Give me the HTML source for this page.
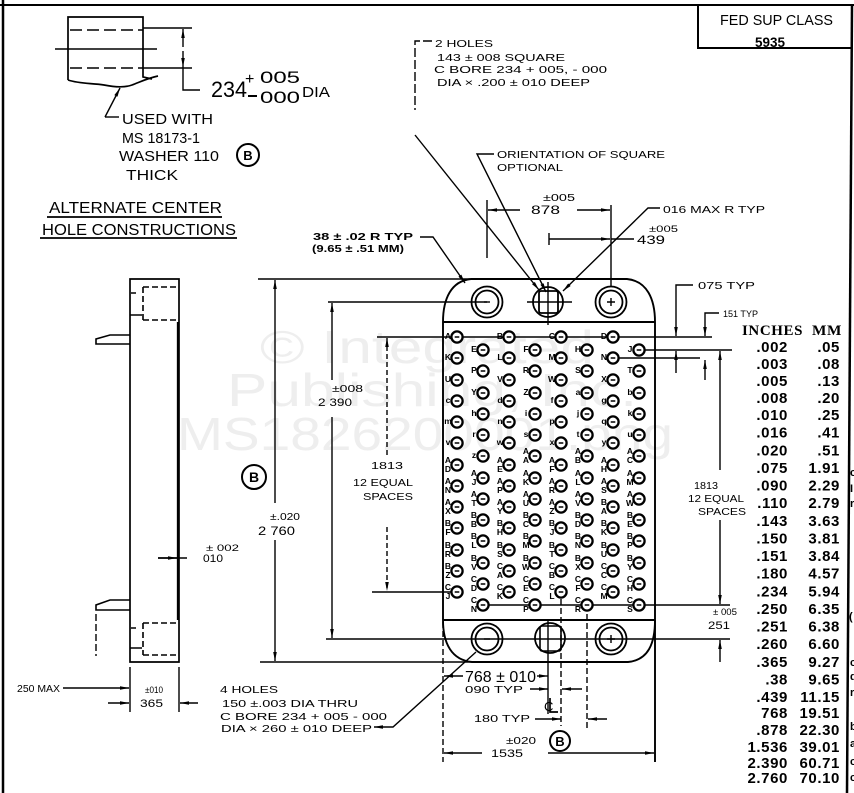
<!DOCTYPE html>
<html><head><meta charset="utf-8">
<style>
html,body{margin:0;padding:0;background:#fff;width:854px;height:793px;overflow:hidden}
svg{display:block}
text{font-family:"Liberation Sans",sans-serif;fill:#000;stroke:none}
.t{font-family:"Liberation Serif",serif;font-weight:bold;font-size:15px;letter-spacing:0.6px}
.lb text{font-size:8.5px;font-weight:bold;text-anchor:middle}
.n{font-size:10.5px}
</style></head><body>
<svg width="854" height="793" viewBox="0 0 854 793" xmlns="http://www.w3.org/2000/svg">
<defs>
<marker id="ar" viewBox="0 0 10 4" refX="10" refY="2" markerWidth="9" markerHeight="3.6" orient="auto" markerUnits="userSpaceOnUse"><path d="M0,0L10,2L0,4z" fill="#000"/></marker>
<g id="h"><circle r="5.6" fill="#fff" stroke="#000" stroke-width="2.3"/><path d="M-2.3,0H2.3" stroke="#000" stroke-width="1.5"/></g>
</defs>

<!-- watermark -->
<text x="260" y="363" font-size="46" textLength="334" lengthAdjust="spacingAndGlyphs" style="fill:#eeeeee">© Integrated</text>
<text x="227" y="406" font-size="46" textLength="410" lengthAdjust="spacingAndGlyphs" style="fill:#eeeeee">Publishing, Inc.</text>
<text x="177" y="450" font-size="46" textLength="496" lengthAdjust="spacingAndGlyphs" style="fill:#eeeeee">MS1826200001.png</text>

<g fill="none" stroke="#000" stroke-width="1.4">
<!-- frame -->
<path d="M3,0V793" stroke-width="2.5"/>
<path d="M0,5H854" stroke-width="2"/>
<path d="M698,5V48H852" stroke-width="2"/>
<path d="M852,5L847,793" stroke-width="2.5"/>

<!-- top-left alternate view -->
<path d="M68,80V17H143V77L152,79" stroke-width="1.7"/>
<path d="M68,80C80,84 92,83 104,85C114,87 124,88 132,85C140,82 148,78 158,76" stroke-width="1.7"/>
<path d="M70,30H143M70,68H143" stroke-dasharray="12,5" stroke-width="1.6"/>
<path d="M55,49H157"/>
<path d="M143,28H192M143,68H192"/>
<path d="M183,47V29" marker-end="url(#ar)"/>
<path d="M183,51V67" marker-end="url(#ar)"/>
<path d="M183,67V90H200"/>
<path d="M105,117L120,88" marker-end="url(#ar)"/>
<path d="M105,117H119"/>
<path d="M248,96H257" stroke-width="2"/>
<circle cx="248" cy="155" r="11" stroke-width="2"/>
<path d="M47,217H222M40,238H237" stroke-width="1.7"/>

<!-- leaders top -->
<path d="M420,237H433L465,283" marker-end="url(#ar)"/>
<path d="M432,41H415V110" stroke-dasharray="9,3"/>
<path d="M415,135L539,290" marker-end="url(#ar)"/>
<path d="M494,154H477L546,292" marker-end="url(#ar)"/>
<path d="M520,210H488" marker-end="url(#ar)"/>
<path d="M577,210H610" marker-end="url(#ar)"/>
<path d="M487,200V258"/>
<path d="M611,205V287"/>
<path d="M660,208H648L563,291" marker-end="url(#ar)"/>
<path d="M549,239H610" marker-end="url(#ar)"/>
<path d="M549,233V245M611,239H634"/>

<!-- right dims -->
<path d="M377,337H712"/>
<path d="M639,350H732"/>
<path d="M613,358H700"/>
<path d="M693,285H676V336" marker-end="url(#ar)"/>
<path d="M676,373V351" marker-end="url(#ar)"/>
<path d="M719,313H705V336" marker-end="url(#ar)"/>
<path d="M705,380V360" marker-end="url(#ar)"/>
<path d="M720,470V351" marker-end="url(#ar)"/>
<path d="M720,520V604" marker-end="url(#ar)"/>
<path d="M483,605H730"/>
<path d="M720,662V640" marker-end="url(#ar)"/>

<!-- left dims -->
<path d="M258,279H470"/>
<path d="M260,662H472"/>
<path d="M275,503V280" marker-end="url(#ar)"/>
<path d="M275,540V661" marker-end="url(#ar)"/>
<circle cx="254" cy="477" r="12" stroke-width="2"/>
<path d="M328,302H487"/>
<path d="M326,639H730"/>
<path d="M332,380V303" marker-end="url(#ar)"/>
<path d="M332,417V638" marker-end="url(#ar)"/>
<path d="M387,455V338" stroke-dasharray="5,3" marker-end="url(#ar)"/>
<path d="M387,527V591" stroke-dasharray="5,3" marker-end="url(#ar)"/>
<path d="M372,592H457"/>

<!-- side view -->
<path d="M130,279H179V662H130Z" stroke-width="1.7"/>
<path d="M178,322V620" stroke-width="2.3"/>
<path d="M143,287H176M143,287V320M143,320H179" stroke-dasharray="6,3" stroke-width="1.6"/>
<path d="M143,623H179M143,623V655M143,655H179" stroke-dasharray="6,3" stroke-width="1.6"/>
<path d="M130,315H142M130,648H142M131,293H136M131,628H136"/>
<path d="M130,335H110L96,339V344H130" stroke-width="1.6"/>
<path d="M130,600H110L96,605V610H130" stroke-width="1.6"/>
<path d="M96,614V656" stroke-dasharray="7,3"/>
<path d="M158,558H187"/>
<path d="M158,558H177" marker-end="url(#ar)"/>
<path d="M130,667V712M179,667V712"/>
<path d="M63,688H129" marker-end="url(#ar)"/>
<path d="M108,703H129" marker-end="url(#ar)"/>
<path d="M198,703H180" marker-end="url(#ar)"/>
<path d="M476,652L393,727H374" marker-end="url(#ar)"/>

<!-- body -->
<path d="M443,322C443,299 451,281 471,279L627,279C647,281 655,299 655,322" stroke-width="1.9"/>
<path d="M443,322H655" stroke-width="1.9"/>
<path d="M443,322V620" stroke-width="1.9"/>
<path d="M655,322V762" stroke-width="1.9"/>
<path d="M443,620H655" stroke-width="1.9"/>
<path d="M443,620C443,644 452,660 472,662L628,662C648,660 655,644 655,620" stroke-width="1.9"/>
<path d="M443,622V762" stroke-dasharray="6,3"/>

<!-- top holes -->
<circle cx="487" cy="302" r="15.5" stroke-width="1.8"/>
<circle cx="487" cy="302" r="11.5" stroke-width="1.8"/>
<path d="M484,302H490"/>
<circle cx="611" cy="302" r="15.5" stroke-width="1.8"/>
<circle cx="611" cy="302" r="11.5" stroke-width="1.8"/>
<path d="M607,302H615M611,298V306"/>
<circle cx="548" cy="302" r="15" stroke-width="1.8"/>
<rect x="539" y="291" width="19" height="22" rx="2" stroke-width="1.8"/>
<path d="M527,302H572M548,282V325"/>

<!-- bottom holes -->
<circle cx="487" cy="639" r="15.5" stroke-width="1.8"/>
<circle cx="487" cy="639" r="11.5" stroke-width="1.8"/>
<path d="M484,639H490"/>
<circle cx="611" cy="639" r="15.5" stroke-width="1.8"/>
<circle cx="611" cy="639" r="11.5" stroke-width="1.8"/>
<path d="M607,639H615M611,635V643"/>
<circle cx="550" cy="638" r="15" stroke-width="1.8"/>
<rect x="540" y="626" width="21" height="25" rx="2" stroke-width="1.6"/>

<!-- bottom dims -->
<path d="M463,676H444" marker-end="url(#ar)"/>
<path d="M537,676H548" marker-end="url(#ar)"/>
<path d="M530,689H548" marker-end="url(#ar)"/>
<path d="M582,689H562" marker-end="url(#ar)"/>
<path d="M535,719H561" marker-end="url(#ar)"/>
<path d="M607,719H588" marker-end="url(#ar)"/>
<path d="M548,620V714"/>
<path d="M561,590V726M587,605V728" stroke-dasharray="6,3"/>
<path d="M550,698V712H558" stroke-width="1.7"/>
<path d="M482,753H444" marker-end="url(#ar)"/>
<path d="M548,753H654" marker-end="url(#ar)"/>
<circle cx="560" cy="741" r="10" stroke-width="2"/>
</g>

<!-- grid holes -->
<g>
<g transform="translate(457,0)"><use href="#h" y="337"/><use href="#h" y="358"/><use href="#h" y="380"/><use href="#h" y="401"/><use href="#h" y="422"/><use href="#h" y="443"/><use href="#h" y="465"/><use href="#h" y="486"/><use href="#h" y="507"/><use href="#h" y="528"/><use href="#h" y="550"/><use href="#h" y="571"/><use href="#h" y="592"/></g>
<g transform="translate(509,0)"><use href="#h" y="337"/><use href="#h" y="358"/><use href="#h" y="380"/><use href="#h" y="401"/><use href="#h" y="422"/><use href="#h" y="443"/><use href="#h" y="465"/><use href="#h" y="486"/><use href="#h" y="507"/><use href="#h" y="528"/><use href="#h" y="550"/><use href="#h" y="571"/><use href="#h" y="592"/></g>
<g transform="translate(561,0)"><use href="#h" y="337"/><use href="#h" y="358"/><use href="#h" y="380"/><use href="#h" y="401"/><use href="#h" y="422"/><use href="#h" y="443"/><use href="#h" y="465"/><use href="#h" y="486"/><use href="#h" y="507"/><use href="#h" y="528"/><use href="#h" y="550"/><use href="#h" y="571"/><use href="#h" y="592"/></g>
<g transform="translate(613,0)"><use href="#h" y="337"/><use href="#h" y="358"/><use href="#h" y="380"/><use href="#h" y="401"/><use href="#h" y="422"/><use href="#h" y="443"/><use href="#h" y="465"/><use href="#h" y="486"/><use href="#h" y="507"/><use href="#h" y="528"/><use href="#h" y="550"/><use href="#h" y="571"/><use href="#h" y="592"/></g>
<g transform="translate(483,0)"><use href="#h" y="350"/><use href="#h" y="371"/><use href="#h" y="393"/><use href="#h" y="414"/><use href="#h" y="435"/><use href="#h" y="456"/><use href="#h" y="478"/><use href="#h" y="499"/><use href="#h" y="520"/><use href="#h" y="541"/><use href="#h" y="563"/><use href="#h" y="584"/><use href="#h" y="605"/></g>
<g transform="translate(535,0)"><use href="#h" y="350"/><use href="#h" y="371"/><use href="#h" y="393"/><use href="#h" y="414"/><use href="#h" y="435"/><use href="#h" y="456"/><use href="#h" y="478"/><use href="#h" y="499"/><use href="#h" y="520"/><use href="#h" y="541"/><use href="#h" y="563"/><use href="#h" y="584"/><use href="#h" y="605"/></g>
<g transform="translate(587,0)"><use href="#h" y="350"/><use href="#h" y="371"/><use href="#h" y="393"/><use href="#h" y="414"/><use href="#h" y="435"/><use href="#h" y="456"/><use href="#h" y="478"/><use href="#h" y="499"/><use href="#h" y="520"/><use href="#h" y="541"/><use href="#h" y="563"/><use href="#h" y="584"/><use href="#h" y="605"/></g>
<g transform="translate(639,0)"><use href="#h" y="350"/><use href="#h" y="371"/><use href="#h" y="393"/><use href="#h" y="414"/><use href="#h" y="435"/><use href="#h" y="456"/><use href="#h" y="478"/><use href="#h" y="499"/><use href="#h" y="520"/><use href="#h" y="541"/><use href="#h" y="563"/><use href="#h" y="584"/><use href="#h" y="605"/></g>
</g>

<!-- hole labels -->
<g class="lb">
<text x="448" y="339">A</text><text x="448" y="360">K</text><text x="448" y="382">U</text><text x="448" y="403">c</text><text x="448" y="424">m</text><text x="448" y="445">v</text>
<text x="448" y="463">A<tspan x="448" dy="9">D</tspan></text><text x="448" y="484">A<tspan x="448" dy="9">N</tspan></text><text x="448" y="505">A<tspan x="448" dy="9">X</tspan></text><text x="448" y="526">B<tspan x="448" dy="9">F</tspan></text><text x="448" y="548">B<tspan x="448" dy="9">R</tspan></text><text x="448" y="569">B<tspan x="448" dy="9">Z</tspan></text><text x="448" y="590">C<tspan x="448" dy="9">J</tspan></text>

<text x="474" y="352">E</text><text x="474" y="373">P</text><text x="474" y="395">Y</text><text x="474" y="416">h</text><text x="474" y="437">r</text><text x="474" y="458">z</text>
<text x="474" y="476">A<tspan x="474" dy="9">J</tspan></text><text x="474" y="497">A<tspan x="474" dy="9">T</tspan></text><text x="474" y="518">B<tspan x="474" dy="9">B</tspan></text><text x="474" y="539">B<tspan x="474" dy="9">L</tspan></text><text x="474" y="561">B<tspan x="474" dy="9">V</tspan></text><text x="474" y="582">C<tspan x="474" dy="9">D</tspan></text><text x="474" y="603">C<tspan x="474" dy="9">N</tspan></text>

<text x="500" y="339">B</text><text x="500" y="360">L</text><text x="500" y="382">V</text><text x="500" y="403">d</text><text x="500" y="424">n</text><text x="500" y="445">w</text>
<text x="500" y="463">A<tspan x="500" dy="9">E</tspan></text><text x="500" y="484">A<tspan x="500" dy="9">P</tspan></text><text x="500" y="505">A<tspan x="500" dy="9">Y</tspan></text><text x="500" y="526">B<tspan x="500" dy="9">H</tspan></text><text x="500" y="548">B<tspan x="500" dy="9">S</tspan></text><text x="500" y="569">C<tspan x="500" dy="9">A</tspan></text><text x="500" y="590">C<tspan x="500" dy="9">K</tspan></text>

<text x="526" y="352">F</text><text x="526" y="373">R</text><text x="526" y="395">Z</text><text x="526" y="416">i</text><text x="526" y="437">s</text>
<text x="526" y="454">A<tspan x="526" dy="9">A</tspan></text><text x="526" y="476">A<tspan x="526" dy="9">K</tspan></text><text x="526" y="497">A<tspan x="526" dy="9">U</tspan></text><text x="526" y="518">B<tspan x="526" dy="9">C</tspan></text><text x="526" y="539">B<tspan x="526" dy="9">M</tspan></text><text x="526" y="561">B<tspan x="526" dy="9">W</tspan></text><text x="526" y="582">C<tspan x="526" dy="9">E</tspan></text><text x="526" y="603">C<tspan x="526" dy="9">P</tspan></text>

<text x="552" y="339">C</text><text x="552" y="360">M</text><text x="552" y="382">W</text><text x="552" y="403">f</text><text x="552" y="424">p</text><text x="552" y="445">x</text>
<text x="552" y="463">A<tspan x="552" dy="9">F</tspan></text><text x="552" y="484">A<tspan x="552" dy="9">R</tspan></text><text x="552" y="505">A<tspan x="552" dy="9">Z</tspan></text><text x="552" y="526">B<tspan x="552" dy="9">J</tspan></text><text x="552" y="548">B<tspan x="552" dy="9">T</tspan></text><text x="552" y="569">C<tspan x="552" dy="9">B</tspan></text><text x="552" y="590">C<tspan x="552" dy="9">L</tspan></text>

<text x="578" y="352">H</text><text x="578" y="373">S</text><text x="578" y="395">a</text><text x="578" y="416">j</text><text x="578" y="437">t</text>
<text x="578" y="454">A<tspan x="578" dy="9">B</tspan></text><text x="578" y="476">A<tspan x="578" dy="9">L</tspan></text><text x="578" y="497">A<tspan x="578" dy="9">V</tspan></text><text x="578" y="518">B<tspan x="578" dy="9">D</tspan></text><text x="578" y="539">B<tspan x="578" dy="9">N</tspan></text><text x="578" y="561">B<tspan x="578" dy="9">X</tspan></text><text x="578" y="582">C<tspan x="578" dy="9">F</tspan></text><text x="578" y="603">C<tspan x="578" dy="9">R</tspan></text>

<text x="604" y="339">D</text><text x="604" y="360">N</text><text x="604" y="382">X</text><text x="604" y="403">g</text><text x="604" y="424">q</text><text x="604" y="445">y</text>
<text x="604" y="463">A<tspan x="604" dy="9">H</tspan></text><text x="604" y="484">A<tspan x="604" dy="9">S</tspan></text><text x="604" y="505">B<tspan x="604" dy="9">A</tspan></text><text x="604" y="526">B<tspan x="604" dy="9">K</tspan></text><text x="604" y="548">B<tspan x="604" dy="9">U</tspan></text><text x="604" y="569">C<tspan x="604" dy="9">C</tspan></text><text x="604" y="590">C<tspan x="604" dy="9">M</tspan></text>

<text x="630" y="352">J</text><text x="630" y="373">T</text><text x="630" y="395">b</text><text x="630" y="416">k</text><text x="630" y="437">u</text>
<text x="630" y="454">A<tspan x="630" dy="9">C</tspan></text><text x="630" y="476">A<tspan x="630" dy="9">M</tspan></text><text x="630" y="497">A<tspan x="630" dy="9">W</tspan></text><text x="630" y="518">B<tspan x="630" dy="9">E</tspan></text><text x="630" y="539">B<tspan x="630" dy="9">P</tspan></text><text x="630" y="561">B<tspan x="630" dy="9">Y</tspan></text><text x="630" y="582">C<tspan x="630" dy="9">H</tspan></text><text x="630" y="603">C<tspan x="630" dy="9">S</tspan></text>
</g>

<!-- texts -->
<text x="720" y="25" font-size="15" textLength="113" lengthAdjust="spacingAndGlyphs">FED  SUP CLASS</text>
<text x="755" y="47" font-size="14" font-weight="bold" textLength="30" lengthAdjust="spacingAndGlyphs">5935</text>

<text x="211" y="97" font-size="22" textLength="36" lengthAdjust="spacingAndGlyphs">234</text>
<text x="245" y="84" font-size="16">+</text>
<text x="260" y="83" font-size="17" textLength="40" lengthAdjust="spacingAndGlyphs">005</text>
<text x="260" y="103" font-size="17" textLength="40" lengthAdjust="spacingAndGlyphs">000</text>
<text x="302" y="97" font-size="15" textLength="28" lengthAdjust="spacingAndGlyphs">DIA</text>
<text x="122" y="124" font-size="15" textLength="91" lengthAdjust="spacingAndGlyphs">USED WITH</text>
<text x="122" y="143" font-size="15" textLength="78" lengthAdjust="spacingAndGlyphs">MS 18173-1</text>
<text x="119" y="161" font-size="15" textLength="100" lengthAdjust="spacingAndGlyphs">WASHER 110</text>
<text x="126" y="180" font-size="15" textLength="52" lengthAdjust="spacingAndGlyphs">THICK</text>
<text x="248" y="160" font-size="13" font-weight="bold" text-anchor="middle">B</text>
<text x="49" y="213" font-size="16" textLength="173" lengthAdjust="spacingAndGlyphs">ALTERNATE CENTER</text>
<text x="42" y="235" font-size="16" textLength="194" lengthAdjust="spacingAndGlyphs">HOLE CONSTRUCTIONS</text>

<text x="313" y="240" font-size="10" font-weight="bold" textLength="100" lengthAdjust="spacingAndGlyphs">38 ± .02 R  TYP</text>
<text x="312" y="252" font-size="10" font-weight="bold" textLength="92" lengthAdjust="spacingAndGlyphs">(9.65 ± .51 MM)</text>

<text class="n" x="435" y="47" textLength="58" lengthAdjust="spacingAndGlyphs">2 HOLES</text>
<text class="n" x="437" y="61" textLength="128" lengthAdjust="spacingAndGlyphs">143 ± 008 SQUARE</text>
<text class="n" x="434" y="73" textLength="173" lengthAdjust="spacingAndGlyphs">C BORE  234 + 005, - 000</text>
<text class="n" x="437" y="86" textLength="153" lengthAdjust="spacingAndGlyphs">DIA × .200 ± 010 DEEP</text>
<text class="n" x="497" y="158" textLength="168" lengthAdjust="spacingAndGlyphs">ORIENTATION  OF  SQUARE</text>
<text class="n" x="497" y="171" textLength="66" lengthAdjust="spacingAndGlyphs">OPTIONAL</text>
<text x="543" y="201" font-size="10" textLength="32" lengthAdjust="spacingAndGlyphs">±005</text>
<text x="531" y="214" font-size="12" textLength="29" lengthAdjust="spacingAndGlyphs">878</text>
<text class="n" x="663" y="213" textLength="102" lengthAdjust="spacingAndGlyphs">016 MAX  R  TYP</text>
<text x="649" y="232" font-size="9" textLength="29" lengthAdjust="spacingAndGlyphs">±005</text>
<text x="637" y="244" font-size="12" textLength="28" lengthAdjust="spacingAndGlyphs">439</text>
<text class="n" x="698" y="289" textLength="57" lengthAdjust="spacingAndGlyphs">075  TYP</text>
<text x="723" y="317" font-size="9.5" textLength="35" lengthAdjust="spacingAndGlyphs">151 TYP</text>

<text x="694" y="489" font-size="10" textLength="24" lengthAdjust="spacingAndGlyphs">1813</text>
<text x="688" y="502" font-size="10" textLength="56" lengthAdjust="spacingAndGlyphs">12 EQUAL</text>
<text x="698" y="515" font-size="10" textLength="48" lengthAdjust="spacingAndGlyphs">SPACES</text>
<text x="713" y="615" font-size="9" textLength="24" lengthAdjust="spacingAndGlyphs">± 005</text>
<text x="708" y="629" font-size="11" textLength="22" lengthAdjust="spacingAndGlyphs">251</text>

<text x="270" y="520" font-size="10" textLength="30" lengthAdjust="spacingAndGlyphs">±.020</text>
<text x="258" y="535" font-size="11.5" textLength="37" lengthAdjust="spacingAndGlyphs">2 760</text>
<text x="254" y="482" font-size="14" font-weight="bold" text-anchor="middle">B</text>
<text x="332" y="392" font-size="10" textLength="31" lengthAdjust="spacingAndGlyphs">±008</text>
<text x="318" y="406" font-size="11" textLength="34" lengthAdjust="spacingAndGlyphs">2 390</text>
<text x="371" y="469" font-size="10.5" textLength="32" lengthAdjust="spacingAndGlyphs">1813</text>
<text x="353" y="486" font-size="10.5" textLength="60" lengthAdjust="spacingAndGlyphs">12 EQUAL</text>
<text x="363" y="500" font-size="10.5" textLength="50" lengthAdjust="spacingAndGlyphs">SPACES</text>

<text x="206" y="551" font-size="9" textLength="33" lengthAdjust="spacingAndGlyphs">± 002</text>
<text x="203" y="562" font-size="11" textLength="20" lengthAdjust="spacingAndGlyphs">010</text>
<text x="17" y="692" font-size="10" textLength="43" lengthAdjust="spacingAndGlyphs">250 MAX</text>
<text x="145" y="693" font-size="9" textLength="18" lengthAdjust="spacingAndGlyphs">±010</text>
<text x="140" y="707" font-size="11" textLength="23" lengthAdjust="spacingAndGlyphs">365</text>
<text class="n" x="220" y="693" textLength="58" lengthAdjust="spacingAndGlyphs">4 HOLES</text>
<text class="n" x="222" y="707" textLength="136" lengthAdjust="spacingAndGlyphs">150 ±.003 DIA THRU</text>
<text class="n" x="220" y="720" textLength="167" lengthAdjust="spacingAndGlyphs">C BORE  234 + 005 - 000</text>
<text class="n" x="221" y="732" textLength="151" lengthAdjust="spacingAndGlyphs">DIA × 260 ± 010 DEEP</text>

<text x="465" y="682" font-size="16" textLength="71" lengthAdjust="spacingAndGlyphs">768 ± 010</text>
<text x="465" y="693" font-size="10" textLength="58" lengthAdjust="spacingAndGlyphs">090  TYP</text>
<text x="544" y="711" font-size="13">C</text>
<text x="474" y="722" font-size="10" textLength="56" lengthAdjust="spacingAndGlyphs">180  TYP</text>
<text x="506" y="744" font-size="10" textLength="30" lengthAdjust="spacingAndGlyphs">±020</text>
<text x="491" y="757" font-size="11" textLength="32" lengthAdjust="spacingAndGlyphs">1535</text>
<text x="560" y="746" font-size="13" font-weight="bold" text-anchor="middle">B</text>

<!-- clipped chars right of border -->
<g font-size="11" font-weight="bold">
<text x="850" y="476">c</text><text x="850" y="492">I</text><text x="850" y="507">r</text>
<text x="849" y="620">(</text><text x="850" y="666">c</text><text x="850" y="680">d</text>
<text x="850" y="696">r</text><text x="850" y="730">b</text><text x="850" y="747">a</text>
<text x="850" y="765">c</text><text x="850" y="781">c</text>
</g>

<!-- table -->
<text class="t" x="742" y="335" font-size="14.5" textLength="61" lengthAdjust="spacingAndGlyphs">INCHES</text>
<text class="t" x="812" y="335" font-size="14.5" textLength="30" lengthAdjust="spacingAndGlyphs">MM</text>
<g class="t">
<text x="788" y="352" text-anchor="end">.002</text><text x="840" y="352" text-anchor="end">.05</text>
<text x="788" y="369" text-anchor="end">.003</text><text x="840" y="369" text-anchor="end">.08</text>
<text x="788" y="386" text-anchor="end">.005</text><text x="840" y="386" text-anchor="end">.13</text>
<text x="788" y="403" text-anchor="end">.008</text><text x="840" y="403" text-anchor="end">.20</text>
<text x="788" y="420" text-anchor="end">.010</text><text x="840" y="420" text-anchor="end">.25</text>
<text x="788" y="437.6" text-anchor="end">.016</text><text x="840" y="437.6" text-anchor="end">.41</text>
<text x="788" y="455.3" text-anchor="end">.020</text><text x="840" y="455.3" text-anchor="end">.51</text>
<text x="788" y="472.9" text-anchor="end">.075</text><text x="840" y="472.9" text-anchor="end">1.91</text>
<text x="788" y="490.5" text-anchor="end">.090</text><text x="840" y="490.5" text-anchor="end">2.29</text>
<text x="788" y="508.1" text-anchor="end">.110</text><text x="840" y="508.1" text-anchor="end">2.79</text>
<text x="788" y="525.8" text-anchor="end">.143</text><text x="840" y="525.8" text-anchor="end">3.63</text>
<text x="788" y="543.4" text-anchor="end">.150</text><text x="840" y="543.4" text-anchor="end">3.81</text>
<text x="788" y="561" text-anchor="end">.151</text><text x="840" y="561" text-anchor="end">3.84</text>
<text x="788" y="578.6" text-anchor="end">.180</text><text x="840" y="578.6" text-anchor="end">4.57</text>
<text x="788" y="596.3" text-anchor="end">.234</text><text x="840" y="596.3" text-anchor="end">5.94</text>
<text x="788" y="613.9" text-anchor="end">.250</text><text x="840" y="613.9" text-anchor="end">6.35</text>
<text x="788" y="631.5" text-anchor="end">.251</text><text x="840" y="631.5" text-anchor="end">6.38</text>
<text x="788" y="649.1" text-anchor="end">.260</text><text x="840" y="649.1" text-anchor="end">6.60</text>
<text x="788" y="666.8" text-anchor="end">.365</text><text x="840" y="666.8" text-anchor="end">9.27</text>
<text x="788" y="684.4" text-anchor="end">.38</text><text x="840" y="684.4" text-anchor="end">9.65</text>
<text x="788" y="702" text-anchor="end">.439</text><text x="840" y="702" text-anchor="end">11.15</text>
<text x="788" y="718" text-anchor="end">768</text><text x="840" y="718" text-anchor="end">19.51</text>
<text x="788" y="735" text-anchor="end">.878</text><text x="840" y="735" text-anchor="end">22.30</text>
<text x="788" y="752" text-anchor="end">1.536</text><text x="840" y="752" text-anchor="end">39.01</text>
<text x="788" y="768" text-anchor="end">2.390</text><text x="840" y="768" text-anchor="end">60.71</text>
<text x="788" y="783" text-anchor="end">2.760</text><text x="840" y="783" text-anchor="end">70.10</text>
</g>
</svg>
</body></html>
